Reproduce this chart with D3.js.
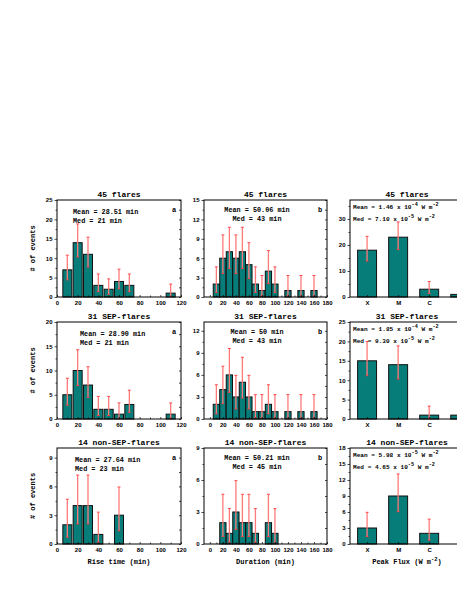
<!DOCTYPE html>
<html>
<head>
<meta charset="utf-8">
<script src="https://cdn.jsdelivr.net/npm/d3@7"></script>
<style>
body{margin:0;background:#fff;overflow:hidden}
svg text{font-family:"Liberation Mono","DejaVu Sans Mono",monospace;font-weight:bold;fill:#000}
.tick text{font-family:"Liberation Sans",Arial,sans-serif;font-size:6px}
</style>
</head>
<body>
<svg id="fig" width="457" height="591"></svg>
<script>
// ---- data ----
var riseBins = [10,20,30,40,50,60,70,80,90,100,110];
var riseAll    = [7,14,11,3,2,4,3,0,0,0,1];
var riseSep    = [5,10,7,2,2,1,3,0,0,0,1];
var riseNonSep = [2,4,4,1,0,3,0,0,0,0,0];

var durBins = [10,20,30,40,50,60,70,80,90,100,110,120,130,140,150,160];
var durAll    = [2,6,7,6,7,5,2,1,4,2,0,1,0,1,0,1];
var durSep    = [2,4,6,3,5,3,1,1,2,1,0,1,0,1,0,1];
var durNonSep = [0,2,1,3,2,2,1,0,2,1,0,0,0,0,0,0];

// the 4th class sits at the cut-off right edge; its label is not visible
var fluxClasses = ["X","M","C",""];
var fluxAll    = [18,23,3,1];
var fluxSep    = [15,14,1,1];
var fluxNonSep = [3,9,2,0];

// error bar ends (lower, upper) per count, as drawn
var errLow  = {1:0.17,2:0.71,3:1.37,4:2.09,5:2.85,6:3.63,7:4.42,9:6.06,10:6.90,11:7.74,14:10.31,15:11.17,18:13.80,23:18.24};
var errHigh = {1:3.32,2:4.66,3:5.94,4:7.18,5:8.40,6:9.60,7:10.78,9:13.12,10:14.28,11:15.43,14:18.84,15:19.97,18:23.33,23:28.87};

var rowTitles = ["45 flares","31 SEP-flares","14 non-SEP-flares"];
var riseMean = ["28.51","28.90","27.64"], riseMed = ["21","21","23"];
var durMean  = ["50.06","50","50.21"],    durMed  = ["43","43","45"];
var fluxMean = [["1.46","-4"],["1.85","-4"],["5.98","-5"]];
var fluxMed  = [["7.10","-5"],["9.30","-5"],["4.65","-5"]];

// ---- layout ----
var svg = d3.select("#fig");
svg.append("rect").attr("width",457).attr("height",591).attr("fill","#fff");

var cols = [{x0:57,x1:181},{x0:204,x1:327},{x0:350,x1:468}];
var rows = [{y0:200,y1:297},{y0:322,y1:419},{y0:448,y1:544}];

var teal = "#077d7a", red = "#ff3b3b";

function panel(c, r, o) {
	var col = cols[c], row = rows[r];
	var g = svg.append("g");
	var x = d3.scaleLinear().domain(o.xdom).range([col.x0, col.x1]);
	var y = d3.scaleLinear().domain(o.ydom).range([row.y1, row.y0]);

	// bars
	var data = o.vals.map(function(v,i){ return {x:o.xs[i], n:v}; }).filter(function(d){ return d.n>0; });
	g.selectAll("rect.bar").data(data).enter().append("rect")
		.attr("x", function(d){ return x(d.x - o.bw/2); })
		.attr("y", function(d){ return y(d.n); })
		.attr("width", function(d){ return x(d.x + o.bw/2) - x(d.x - o.bw/2); })
		.attr("height", function(d){ return y(0) - y(d.n); })
		.attr("fill", teal).attr("stroke","#111").attr("stroke-width",1);

	// error bars
	var eb = g.selectAll("g.err").data(data).enter().append("g");
	eb.append("line")
		.attr("x1", function(d){ return x(d.x); }).attr("x2", function(d){ return x(d.x); })
		.attr("y1", function(d){ return y(errLow[d.n]); }).attr("y2", function(d){ return y(errHigh[d.n]); })
		.attr("stroke","#ff7a7a").attr("stroke-width",1.3);
	["low","high"].forEach(function(k){
		eb.append("line")
			.attr("x1", function(d){ return x(d.x)-1.5; }).attr("x2", function(d){ return x(d.x)+1.5; })
			.attr("y1", function(d){ return y(k=="low"?errLow[d.n]:errHigh[d.n]); })
			.attr("y2", function(d){ return y(k=="low"?errLow[d.n]:errHigh[d.n]); })
			.attr("stroke",red).attr("stroke-width",0.9);
	});

	// frame
	g.append("rect").attr("x",col.x0).attr("y",row.y0)
		.attr("width",col.x1-col.x0).attr("height",row.y1-row.y0)
		.attr("fill","none").attr("stroke","#000").attr("stroke-width",1);

	// y axes: left outward with labels, right inward
	var ymaj = d3.range(o.ydom[0], o.ydom[1]+0.01, o.ystep);
	var ymin = d3.range(o.ystep/2, o.ydom[1]+0.01, o.ystep);
	g.append("g").attr("transform","translate("+col.x0+",0)")
		.call(d3.axisLeft(y).tickValues(ymaj).tickSize(2.5).tickPadding(2).tickFormat(d3.format("d")))
		.call(function(a){ a.select(".domain").remove(); });
	g.append("g").attr("transform","translate("+col.x0+",0)")
		.call(d3.axisLeft(y).tickValues(ymin).tickSize(1.5).tickFormat(""))
		.call(function(a){ a.select(".domain").remove(); });
	g.append("g").attr("transform","translate("+col.x1+",0)")
		.call(d3.axisLeft(y).tickValues(ymaj.concat(ymin)).tickSize(2).tickFormat(""))
		.call(function(a){ a.select(".domain").remove(); });

	// x axis: inward ticks
	var xa = d3.axisBottom(x).tickValues(o.xticks).tickSize(-2).tickPadding(3.5).tickFormat(o.xfmt);
	g.append("g").attr("transform","translate(0,"+row.y1+")").call(xa)
		.call(function(a){ a.select(".domain").remove(); });
	if (o.xminor) {
		g.append("g").attr("transform","translate(0,"+row.y1+")")
			.call(d3.axisBottom(x).tickValues(o.xminor).tickSize(-1.5).tickFormat(""))
			.call(function(a){ a.select(".domain").remove(); });
	}
	g.selectAll(".tick line").attr("stroke","#000").attr("stroke-width",0.7);

	// title
	g.append("text").attr("x",(col.x0+Math.min(col.x1,464))/2).attr("y",row.y0-3)
		.attr("text-anchor","middle").style("font-size","8px").text(rowTitles[r]);
	return g;
}

var riseMinor = d3.range(10,120,20);
var durMinor = d3.range(10,180,20);

for (var r = 0; r < 3; r++) {
	var row = rows[r];
	// rise time
	var g1 = panel(0, r, {xdom:[0,120], ydom:[[0,25],[0,20],[0,10]][r], ystep:[5,5,3][r],
		xs:riseBins, vals:[riseAll,riseSep,riseNonSep][r], bw:8.7,
		xticks:d3.range(0,121,20), xminor:riseMinor, xfmt:d3.format("d")});
	var lx = cols[0].x0 + [16,23,18][r];
	g1.append("text").attr("x",lx).attr("y",row.y0+14).style("font-size","6.8px")
		.text("Mean = "+riseMean[r]+" min");
	g1.append("text").attr("x",lx).attr("y",row.y0+23).style("font-size","6.8px")
		.text("Med = "+riseMed[r]+" min");
	g1.append("text").attr("x",cols[0].x1-9).attr("y",row.y0+12).style("font-size","7px").text("a");

	// duration
	var g2 = panel(1, r, {xdom:[-9,180], ydom:[[0,15],[0,13.2],[0,9]][r], ystep:3,
		xs:durBins, vals:[durAll,durSep,durNonSep][r], bw:9.6,
		xticks:d3.range(0,181,20), xminor:durMinor, xfmt:d3.format("d")});
	var cx = cols[1].x0 + 53;
	g2.append("text").attr("x",cx).attr("y",row.y0+11.5).attr("text-anchor","middle").style("font-size","6.8px")
		.text("Mean = "+durMean[r]+" min");
	g2.append("text").attr("x",cx).attr("y",row.y0+21).attr("text-anchor","middle").style("font-size","6.8px")
		.text("Med = "+durMed[r]+" min");
	g2.append("text").attr("x",cols[1].x1-9).attr("y",row.y0+12).style("font-size","7px").text("b");

	// peak flux
	var g3 = panel(2, r, {xdom:[0.45,4.25], ydom:[[0,37.3],[0,25],[0,18]][r], ystep:[10,5,3][r],
		xs:[1,2,3,4], vals:[fluxAll,fluxSep,fluxNonSep][r], bw:0.61,
		xticks:[1,2,3], xminor:[4], xfmt:function(d){ return fluxClasses[d-1]; }});
	[["Mean = ",fluxMean[r],9],["Med = ",fluxMed[r],20.5]].forEach(function(s){
		var t = g3.append("text").attr("x",cols[2].x0+3).attr("y",row.y0+s[2]).style("font-size","6.1px");
		t.append("tspan").text(s[0]+s[1][0]+" x 10");
		t.append("tspan").attr("dy",-3).style("font-size","5.2px").text(s[1][1]);
		t.append("tspan").attr("dy",3).text(" W m");
		t.append("tspan").attr("dy",-3).style("font-size","5.2px").text("-2");
	});

	// y label
	svg.append("text").attr("transform","translate(35,"+((row.y0+row.y1)/2)+") rotate(-90)")
		.attr("text-anchor","middle").style("font-size","7px").text("# of events");
}

// x labels
var by = rows[2].y1 + 20;
svg.append("text").attr("x",(cols[0].x0+cols[0].x1)/2).attr("y",by).attr("text-anchor","middle")
	.style("font-size","7px").text("Rise time (min)");
svg.append("text").attr("x",(cols[1].x0+cols[1].x1)/2).attr("y",by).attr("text-anchor","middle")
	.style("font-size","7px").text("Duration (min)");
var pf = svg.append("text").attr("x",407).attr("y",by).attr("text-anchor","middle").style("font-size","7px");
pf.append("tspan").text("Peak Flux (W m");
pf.append("tspan").attr("dy",-3).style("font-size","5.5px").text("-2");
pf.append("tspan").attr("dy",3).text(")");
</script>
</body>
</html>
